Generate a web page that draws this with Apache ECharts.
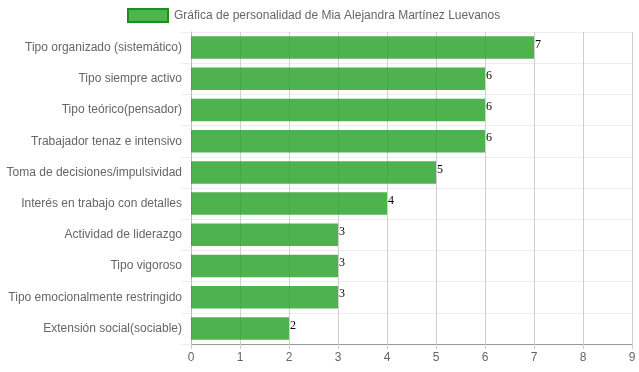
<!DOCTYPE html>
<html><head><meta charset="utf-8">
<script src="https://cdn.jsdelivr.net/npm/echarts@6/dist/echarts.min.js"></script>
<style>html,body{margin:0;padding:0;background:#fff}#c{width:639px;height:372px}</style>
</head><body><div id="c"></div>
<script>
const categories = ["Tipo organizado (sistemático)","Tipo siempre activo","Tipo teórico(pensador)","Trabajador tenaz e intensivo","Toma de decisiones/impulsividad","Interés en trabajo con detalles","Actividad de liderazgo","Tipo vigoroso","Tipo emocionalmente restringido","Extensión social(sociable)"];
const values = [7,6,6,6,5,4,3,3,3,2];
const seriesName = "Gráfica de personalidad de Mia Alejandra Martínez Luevanos";
const chart = echarts.init(document.getElementById('c'), null, {renderer:'canvas'});
chart.setOption({
  animation:false,
  legend:{top:3,left:122,itemWidth:40,itemHeight:13,itemGap:8,icon:'rect',
    textStyle:{fontFamily:'Liberation Sans, Arial',fontSize:12,color:'#666',padding:[0,0,0,1]},
    data:[{name:seriesName,itemStyle:{color:'#4cb54c',borderColor:'#1a8f1a',borderWidth:2}}]},
  grid:{left:191,right:7,top:32,bottom:28,containLabel:false},
  xAxis:{type:'value',min:0,max:9,interval:1,
    axisLine:{show:true,lineStyle:{color:'#999'}},
    axisTick:{show:true,length:5,lineStyle:{color:'#ccc'}},
    axisLabel:{color:'#666',fontFamily:'Liberation Sans, Arial',fontSize:12,margin:8},
    splitLine:{show:true,lineStyle:{color:'#d0d0d0'}}},
  yAxis:{type:'category',data:categories,inverse:true,
    axisLine:{show:true,lineStyle:{color:'#bbb'}},
    axisTick:{show:true,length:10,lineStyle:{color:'#eee'}},
    axisLabel:{color:'#666',fontFamily:'Liberation Sans, Arial',fontSize:12,margin:9},
    splitLine:{show:true,lineStyle:{color:'#eee'}}},
  series:[{name:seriesName,type:'bar',data:values,barCategoryGap:'28%',
    itemStyle:{color:'rgba(34,160,34,0.8)'},
    label:{show:true,position:'right',distance:1,offset:[0,-3],color:'#000',
      fontFamily:'Liberation Serif, Times New Roman',fontSize:12}}]
});
</script></body></html>
